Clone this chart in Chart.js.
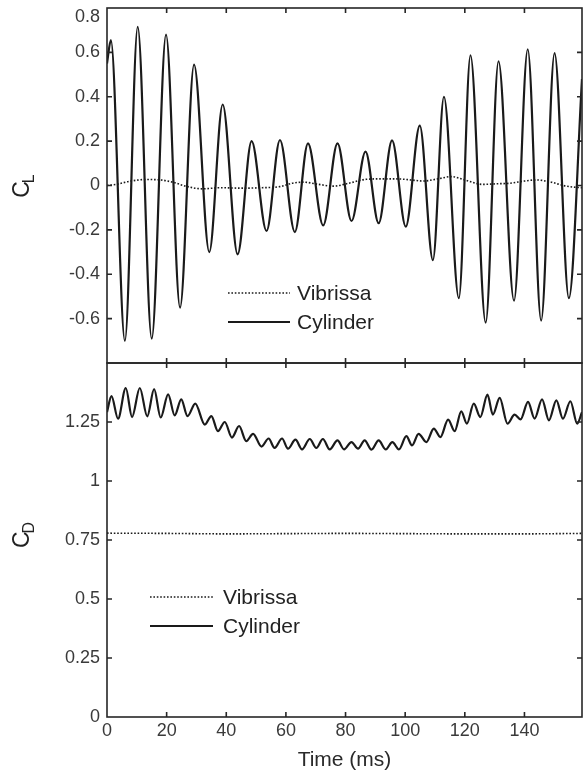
<!DOCTYPE html>
<html><head><meta charset="utf-8">
<script src="https://cdn.jsdelivr.net/npm/chart.js@4.4.1/dist/chart.umd.min.js"></script>
<style>
html,body{margin:0;padding:0;background:#fff;}
#wrap{position:relative;width:583px;height:773px;overflow:hidden;background:#fff;}
#c1{position:absolute;left:0;top:0;}
#c2{position:absolute;left:0;top:355px;}
</style></head><body>
<div id="wrap">
<canvas id="c1" width="583" height="364"></canvas>
<canvas id="c2" width="583" height="418"></canvas>
</div>
<script>
// ---------- data ----------
const seriesNames = ['Vibrissa', 'Cylinder'];
const xTicks = [0, 20, 40, 60, 80, 100, 120, 140];
const clTicks = [-0.6, -0.4, -0.2, 0, 0.2, 0.4, 0.6, 0.8];
const cdTicks = [0, 0.25, 0.5, 0.75, 1, 1.25];

// Lift coefficient, cylinder (extrema)
const timeCylCL = [0, 1.3, 6.0, 10.3, 15.0, 19.8, 24.5, 29.2, 34.3, 38.8, 43.8, 48.5, 53.5, 58.0, 63.0, 67.4, 72.5, 77.3, 82.0, 86.7, 91.1, 95.6, 100.2, 104.9, 109.3, 113.0, 118.0, 121.9, 127.0, 131.3, 136.5, 141.1, 145.6, 150.1, 154.9, 159.3];
const cylCL = [0.55, 0.655, -0.70, 0.715, -0.69, 0.68, -0.55, 0.545, -0.30, 0.365, -0.31, 0.20, -0.205, 0.205, -0.21, 0.19, -0.18, 0.19, -0.16, 0.153, -0.17, 0.203, -0.185, 0.27, -0.336, 0.40, -0.508, 0.587, -0.618, 0.56, -0.519, 0.614, -0.609, 0.597, -0.508, 0.48];

// Lift coefficient, vibrissa
const timeVibCL = [0, 3, 8, 13, 18, 22, 27, 32, 38, 45, 52, 58, 62, 66, 71, 76, 81, 87, 92, 97, 102, 106, 111, 115.5, 120, 126, 131, 135, 140, 144, 149, 153, 157, 159.3];
const vibCL = [0.0, 0.005, 0.02, 0.027, 0.025, 0.015, -0.005, -0.015, -0.01, -0.012, -0.01, -0.005, 0.01, 0.015, 0.005, -0.003, 0.01, 0.028, 0.03, 0.03, 0.025, 0.02, 0.03, 0.04, 0.025, 0.005, 0.008, 0.01, 0.02, 0.025, 0.015, 0.0, -0.008, -0.01];

// Drag coefficient, cylinder
const timeCylCD = [0, 1.5, 3.7, 6.3, 8.4, 11.0, 13.5, 15.8, 18.0, 20.5, 22.7, 24.9, 27.0, 29.6, 32.8, 35.0, 37.2, 39.5, 41.9, 44.3, 46.7, 49.0, 51.8, 54.2, 56.2, 58.7, 60.7, 63.2, 65.4, 68.0, 70.2, 72.4, 74.7, 77.3, 79.5, 82.0, 84.2, 86.4, 88.7, 91.1, 93.5, 95.7, 97.9, 100.4, 102.3, 104.5, 107.1, 109.6, 111.8, 114.4, 116.6, 118.8, 120.7, 123.0, 125.2, 127.6, 129.4, 131.7, 134.3, 136.7, 138.7, 141.2, 143.4, 145.9, 148.2, 150.7, 152.9, 155.4, 157.7, 159.3];
const cylCD = [1.292, 1.360, 1.264, 1.394, 1.271, 1.394, 1.274, 1.389, 1.269, 1.367, 1.278, 1.346, 1.275, 1.328, 1.239, 1.275, 1.211, 1.250, 1.184, 1.233, 1.169, 1.200, 1.146, 1.180, 1.140, 1.180, 1.137, 1.175, 1.134, 1.178, 1.140, 1.178, 1.134, 1.172, 1.134, 1.165, 1.137, 1.172, 1.133, 1.172, 1.134, 1.165, 1.134, 1.190, 1.151, 1.200, 1.165, 1.222, 1.186, 1.260, 1.211, 1.295, 1.243, 1.328, 1.271, 1.366, 1.281, 1.352, 1.243, 1.281, 1.261, 1.335, 1.264, 1.346, 1.257, 1.342, 1.264, 1.338, 1.243, 1.292];

// Drag coefficient, vibrissa
const timeVibCD = [0, 20, 40, 60, 80, 100, 120, 140, 159.3];
const vibCD = [0.779, 0.778, 0.776, 0.777, 0.778, 0.777, 0.776, 0.776, 0.778];

// ---------- helpers ----------
const FONT = "'Liberation Sans', Arial, Helvetica, sans-serif";
const INK = '#1a1a1a';
const AXIS = '#262626';
const LABEL = '#3a3a3a';
const pts = (xs, ys) => xs.map((t, i) => ({x: t, y: ys[i]}));
const fmt = v => String(Math.round(v * 100) / 100);

const decorPlugin = {
  id: 'decor',
  afterDatasetsDraw(chart, args, o) {
    const {ctx, chartArea: a, scales} = chart;
    const xs = scales.x, ys = scales.y;
    ctx.save();
    // frame
    ctx.strokeStyle = AXIS; ctx.lineWidth = 1.6; ctx.setLineDash([]);
    ctx.strokeRect(a.left, a.top, a.right - a.left, a.bottom - a.top);
    // inward ticks
    const L = 5;
    ctx.beginPath();
    o.xTicks.forEach(v => {
      const px = xs.getPixelForValue(v);
      if (px <= a.left + 1 || px >= a.right - 1) return;
      ctx.moveTo(px, a.bottom); ctx.lineTo(px, a.bottom - L);
      ctx.moveTo(px, a.top); ctx.lineTo(px, a.top + L);
    });
    o.yTicks.forEach(v => {
      const py = ys.getPixelForValue(v);
      if (py <= a.top + 1 || py >= a.bottom - 1) return;
      ctx.moveTo(a.left, py); ctx.lineTo(a.left + L, py);
      ctx.moveTo(a.right, py); ctx.lineTo(a.right - L, py);
    });
    ctx.stroke();
    // legend
    const lg = o.legend;
    chart.data.datasets.forEach((ds, i) => {
      const y = lg.y + i * lg.dy;
      ctx.beginPath();
      ctx.strokeStyle = ds.borderColor;
      ctx.lineWidth = ds.borderWidth;
      ctx.setLineDash(ds.borderDash || []);
      ctx.moveTo(lg.x, y); ctx.lineTo(lg.x + lg.len, y);
      ctx.stroke();
      ctx.setLineDash([]);
      ctx.fillStyle = '#222';
      ctx.font = '21px ' + FONT;
      ctx.textBaseline = 'middle';
      ctx.textAlign = 'left';
      ctx.fillText(ds.label, lg.x + lg.len + lg.gap, y + 1);
    });
    // y title with subscript
    const t = o.yTitle;
    ctx.translate(t.x, t.y);
    ctx.rotate(-Math.PI / 2);
    ctx.fillStyle = '#222';
    ctx.textBaseline = 'alphabetic';
    ctx.font = '23px ' + FONT;
    const wC = ctx.measureText(t.main).width;
    ctx.font = '16px ' + FONT;
    const wS = ctx.measureText(t.sub).width;
    const x0 = -(wC + wS - 2) / 2;
    ctx.font = '23px ' + FONT;
    ctx.fillText(t.main, x0, 0);
    ctx.font = '16px ' + FONT;
    ctx.fillText(t.sub, x0 + wC - 2, 5);
    ctx.restore();
  }
};

function yScale(min, max, ticks, topShift) {
  return {
    type: 'linear', min: min, max: max,
    grid: {display: false, drawTicks: false},
    border: {display: false},
    afterBuildTicks: s => { s.ticks = ticks.map(v => ({value: v})); },
    afterFit: s => { s.width = 107; s.paddingTop = 0; s.paddingBottom = 0; },
    ticks: {
      padding: 7, color: LABEL,
      font: {family: FONT, size: 18, lineHeight: 1},
      callback: v => (topShift && Math.abs(v - max) < 1e-9) ? ['', fmt(v)] : fmt(v)
    }
  };
}

function datasets(vibT, vib, cylT, cyl) {
  return [
    {label: seriesNames[0], data: pts(vibT, vib), borderColor: INK, borderWidth: 1.6,
     borderDash: [1.6, 1.8], pointRadius: 0, cubicInterpolationMode: 'monotone', fill: false, clip: 0},
    {label: seriesNames[1], data: pts(cylT, cyl), borderColor: INK, borderWidth: 2.2,
     pointRadius: 0, cubicInterpolationMode: 'monotone', fill: false, clip: 0}
  ];
}

const common = {
  responsive: false, animation: false, devicePixelRatio: 1,
  plugins: {legend: {display: false}, tooltip: {enabled: false}}
};

// ---------- top chart: lift ----------
new Chart(document.getElementById('c1'), {
  type: 'line',
  data: {datasets: datasets(timeVibCL, vibCL, timeCylCL, cylCL)},
  options: Object.assign({}, common, {
    layout: {padding: {left: 0, right: 1, top: 8, bottom: 1}},
    scales: {
      x: {type: 'linear', min: 0, max: 159.3, display: false},
      y: yScale(-0.8, 0.8, clTicks, true)
    },
    plugins: Object.assign({}, common.plugins, {
      decor: {xTicks: xTicks, yTicks: clTicks,
        legend: {x: 228, y: 293, dy: 29, len: 62, gap: 7},
        yTitle: {main: 'C', sub: 'L', x: 29, y: 186}}
    })
  }),
  plugins: [decorPlugin]
});

// ---------- bottom chart: drag ----------
new Chart(document.getElementById('c2'), {
  type: 'line',
  data: {datasets: datasets(timeVibCD, vibCD, timeCylCD, cylCD)},
  options: Object.assign({}, common, {
    layout: {padding: {left: 0, right: 1, top: 8, bottom: 0}},
    scales: {
      x: {
        type: 'linear', min: 0, max: 159.3,
        grid: {display: false, drawTicks: false},
        border: {display: false},
        afterBuildTicks: s => { s.ticks = xTicks.map(v => ({value: v})); },
        afterFit: s => { s.height = 56; s.paddingLeft = 0; s.paddingRight = 0; },
        ticks: {padding: 5, color: LABEL, maxRotation: 0,
          font: {family: FONT, size: 18, lineHeight: 1}, callback: v => fmt(v)},
        title: {display: true, text: 'Time (ms)', color: '#2a2a2a',
          font: {family: FONT, size: 21, lineHeight: 1.2}, padding: {top: 0, bottom: 0}}
      },
      y: yScale(0, 1.5, cdTicks, false)
    },
    plugins: Object.assign({}, common.plugins, {
      decor: {xTicks: xTicks, yTicks: cdTicks,
        legend: {x: 150, y: 242, dy: 29, len: 63, gap: 10},
        yTitle: {main: 'C', sub: 'D', x: 29, y: 180}}
    })
  }),
  plugins: [decorPlugin]
});
</script>
</body></html>
